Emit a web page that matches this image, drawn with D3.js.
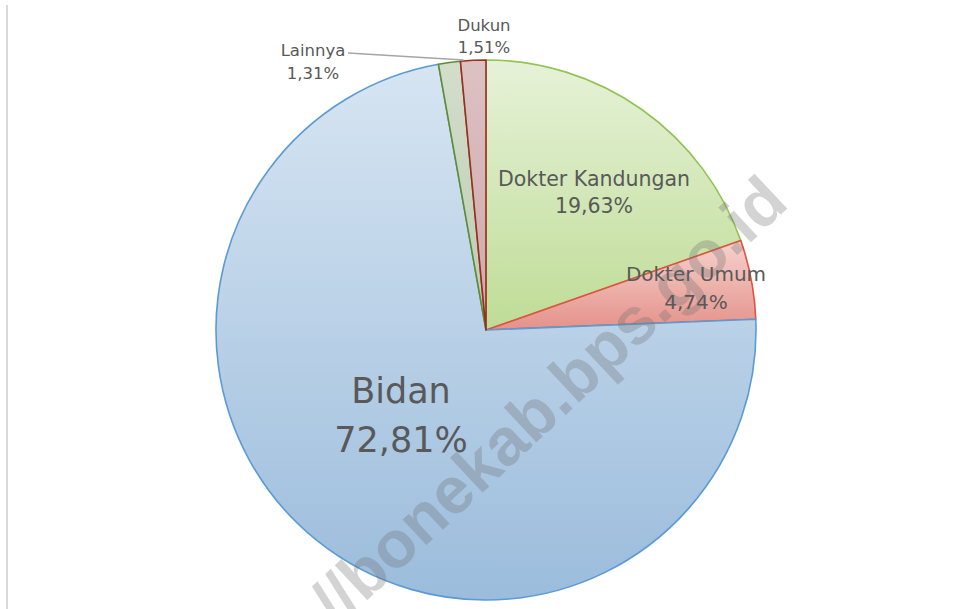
<!DOCTYPE html>
<html>
<head>
<meta charset="utf-8">
<script src="https://cdn.jsdelivr.net/npm/d3@7"></script>
<style>
  body { margin: 0; background: #fff; }
  svg { display: block; }
</style>
</head>
<body>
<div class="chart"></div>
<script>
var svgWidth = 956;
var svgHeight = 609;

// data, clockwise from 12 o'clock
var categories = ["Dokter Kandungan", "Dokter Umum", "Bidan", "Lainnya", "Dukun"];
var shares = [19.63, 4.74, 72.81, 1.31, 1.51];
var valueLabels = ["19,63%", "4,74%", "72,81%", "1,31%", "1,51%"];

// styling per slice
var fillTop = ["#e6f2d8", "#f6d2ce", "#d7e5f2", "#d3ddcb", "#dcc1c3"];
var fillBottom = ["#bfdc96", "#e4928a", "#9bbcdc", "#bccdb2", "#cfa9ab"];
var strokes = ["#92c353", "#e0533f", "#5b9bd5", "#5e8e33", "#9a2c20"];

// label anchors (x, first baseline), font size, line gap
var labelPos = [[594, 186], [696, 281], [401, 403], [313, 56], [484, 31]];
var labelSize = [20.5, 20, 35, 16.5, 16.5];
var labelGap = [27, 28, 49, 23, 22];

var cx = 486, cy = 330, radius = 270;

var svg = d3.select(".chart")
  .append("svg")
  .attr("width", svgWidth)
  .attr("height", svgHeight);

// thin frame line on the left
svg.append("line")
  .attr("x1", 7).attr("x2", 7)
  .attr("y1", 5).attr("y2", svgHeight)
  .attr("stroke", "#d9d9d9")
  .attr("stroke-width", 2);

var defs = svg.append("defs");
categories.forEach(function(c, i) {
  var g = defs.append("linearGradient")
    .attr("id", "grad" + i)
    .attr("x1", 0).attr("y1", 0)
    .attr("x2", 0).attr("y2", 1);
  g.append("stop").attr("offset", "0%").attr("stop-color", fillTop[i]);
  g.append("stop").attr("offset", "100%").attr("stop-color", fillBottom[i]);
});

var data = categories.map(function(c, i) {
  return { name: c, value: shares[i], label: valueLabels[i], i: i };
});

var pie = d3.pie()
  .sort(null)
  .value(function(d) { return d.value; });

var arc = d3.arc()
  .innerRadius(0)
  .outerRadius(radius);

var arcs = pie(data);

var chartGroup = svg.append("g")
  .attr("transform", `translate(${cx}, ${cy})`);

chartGroup.selectAll(".slice")
  .data(arcs)
  .enter()
  .append("path")
  .attr("class", "slice")
  .attr("d", arc)
  .attr("fill", function(d) { return "url(#grad" + d.data.i + ")"; })
  .attr("stroke", function(d) { return strokes[d.data.i]; })
  .attr("stroke-width", 1.6)
  .attr("stroke-linejoin", "round");

// leader line for "Lainnya"
var lainnya = arcs[3];
var endAng = lainnya.endAngle + 0.012;
var lx = Math.sin(endAng) * (radius + 1);
var ly = -Math.cos(endAng) * (radius + 1);
svg.append("line")
  .attr("x1", 348).attr("y1", 53)
  .attr("x2", cx + lx).attr("y2", cy + ly)
  .attr("stroke", "#a6a6a6")
  .attr("stroke-width", 1.6);

// watermark (runs off the bottom edge, as in the source image)
svg.append("text")
  .attr("transform", "translate(548, 400) rotate(-43)")
  .attr("text-anchor", "middle")
  .attr("dy", "0.35em")
  .attr("font-family", "'Liberation Sans', Arial, sans-serif")
  .attr("font-weight", "bold")
  .attr("font-size", 66)
  .attr("fill", "#6e6e6e")
  .attr("fill-opacity", 0.3)
  .text("//bonekab.bps.go.id");

// data labels
var labels = svg.selectAll(".lbl")
  .data(data)
  .enter()
  .append("text")
  .attr("class", "lbl")
  .attr("text-anchor", "middle")
  .attr("font-family", "'DejaVu Sans', sans-serif")
  .attr("font-size", function(d) { return labelSize[d.i]; })
  .attr("fill", "#595959");

labels.append("tspan")
  .attr("x", function(d) { return labelPos[d.i][0]; })
  .attr("y", function(d) { return labelPos[d.i][1]; })
  .text(function(d) { return d.name; });

labels.append("tspan")
  .attr("x", function(d) { return labelPos[d.i][0]; })
  .attr("y", function(d) { return labelPos[d.i][1] + labelGap[d.i]; })
  .text(function(d) { return d.label; });
</script>
</body>
</html>
